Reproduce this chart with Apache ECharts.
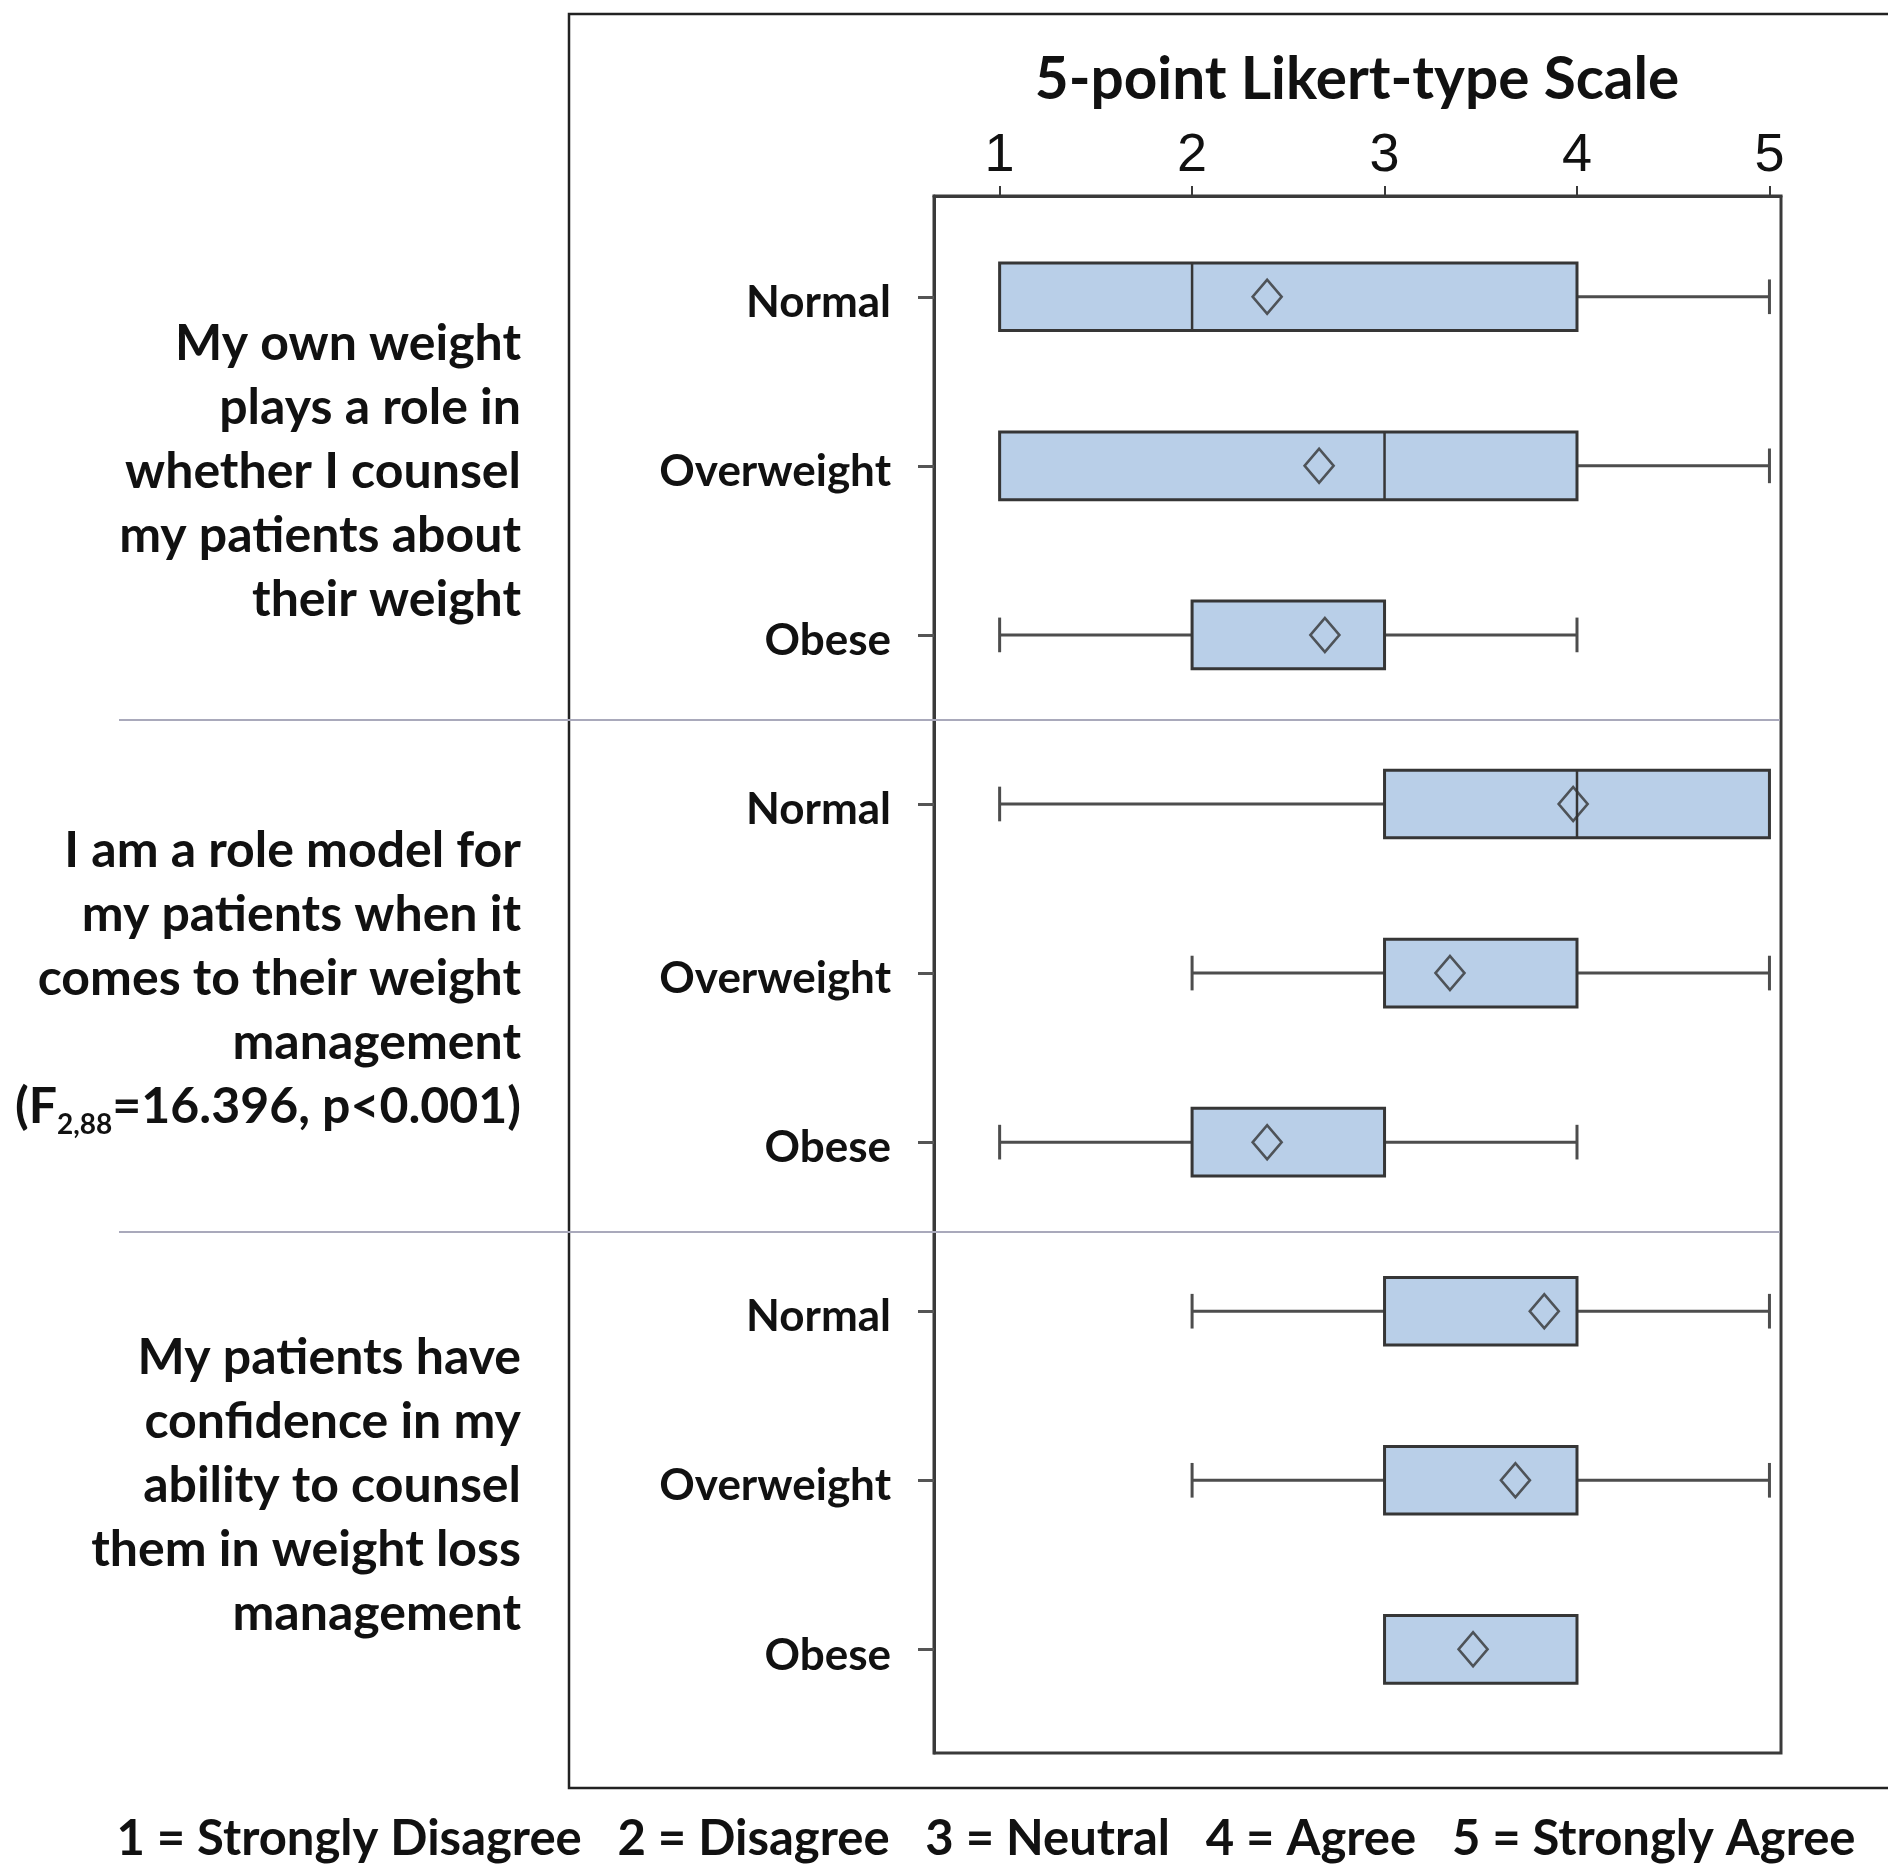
<!DOCTYPE html>
<html><head><meta charset="utf-8">
<script src="https://cdn.jsdelivr.net/npm/echarts@6/dist/echarts.min.js"></script>
<style>html,body{margin:0;padding:0;background:#fff;}#chart{width:1888px;height:1868px;}</style>
</head><body><div id="chart"></div>
<script>
// ---- data ----
const rowLabels = ['Normal','Overweight','Obese','Normal','Overweight','Obese','Normal','Overweight','Obese'];
const rowPositions = [1,2,3,4,5,6,7,8,9];
const xTickValues = [1,2,3,4,5];
const whiskerMin = [1,1,1,1,2,1,2,2,3];
const q1Values   = [1,1,2,3,3,2,3,3,3];
const medianValues = [2,3,3,4,3,2,4,4,3];
const q3Values   = [4,4,3,5,4,3,4,4,4];
const whiskerMax = [5,5,4,5,5,4,5,5,4];
const meanValues = [2.39,2.66,2.69,3.98,3.34,2.39,3.83,3.68,3.46];
const axisTitle = '5-point Likert-type Scale';
const scaleLegend = '1 = Strongly Disagree   2 = Disagree   3 = Neutral   4 = Agree   5 = Strongly Agree';
const questions = [
  {text:'My own weight\nplays a role in\nwhether I counsel\nmy patients about\ntheir weight', row:2},
  {text:'I am a role model for\nmy patients when it\ncomes to their weight\nmanagement\n(F{sub|2,88}=16.396, p<0.001)', row:5},
  {text:'My patients have\nconfidence in my\nability to counsel\nthem in weight loss\nmanagement', row:8}
];

const boxData = rowPositions.map((p,i)=>[p, whiskerMin[i], q1Values[i], medianValues[i], q3Values[i], whiskerMax[i]]);
const meanData = rowPositions.map((p,i)=>[meanValues[i], p]);

const chart = echarts.init(document.getElementById('chart'));

function renderBox(params, api){
  const y = api.value(0);
  const lo=api.value(1), a=api.value(2), md=api.value(3), b=api.value(4), hi=api.value(5);
  const unit = api.size([0,1])[1];
  const boxH = unit*0.4, capH = unit*0.205;
  const pLo=api.coord([lo,y]), pA=api.coord([a,y]), pM=api.coord([md,y]), pB=api.coord([b,y]), pHi=api.coord([hi,y]);
  const cy = pA[1];
  const ws = {stroke:'#4d4d4d', lineWidth:3};
  const ch = [];
  if (lo < a){
    ch.push({type:'line', shape:{x1:pLo[0],y1:cy,x2:pA[0],y2:cy}, style:ws});
    ch.push({type:'line', shape:{x1:pLo[0],y1:cy-capH/2,x2:pLo[0],y2:cy+capH/2}, style:ws});
  }
  if (hi > b){
    ch.push({type:'line', shape:{x1:pB[0],y1:cy,x2:pHi[0],y2:cy}, style:ws});
    ch.push({type:'line', shape:{x1:pHi[0],y1:cy-capH/2,x2:pHi[0],y2:cy+capH/2}, style:ws});
  }
  ch.push({type:'rect', shape:{x:pA[0], y:cy-boxH/2, width:pB[0]-pA[0], height:boxH},
    style:{fill:'#b9cfe8', stroke:'#363636', lineWidth:3}});
  if (md > a && md < b){
    ch.push({type:'line', shape:{x1:pM[0],y1:cy-boxH/2,x2:pM[0],y2:cy+boxH/2}, style:{stroke:'#363636', lineWidth:2.5}});
  }
  return {type:'group', children:ch};
}

const option = {
  backgroundColor:'#fff',
  animation:false,
  grid:{left:934, top:196, width:847, height:1557, show:true, borderColor:'#3a3a3a', borderWidth:3, backgroundColor:'transparent'},
  xAxis:{type:'value', position:'top', min:0.659, max:5.06,
    splitLine:{show:false},
    axisLine:{show:true, lineStyle:{color:'#3a3a3a', width:3}},
    axisTick:{show:true, customValues:xTickValues, length:10, lineStyle:{color:'#3a3a3a', width:2}},
    axisLabel:{customValues:xTickValues, fontFamily:"'Liberation Sans Narrow', 'Arial Narrow', 'Liberation Sans', sans-serif",
      fontSize:54, color:'#111', margin:13}
  },
  yAxis:{type:'value', inverse:true, min:0.404, max:9.613,
    splitLine:{show:false},
    axisLine:{show:true, lineStyle:{color:'#3a3a3a', width:3}},
    axisTick:{show:true, customValues:rowPositions, length:16, lineStyle:{color:'#555', width:3}},
    axisLabel:{customValues:rowPositions, formatter:v=>rowLabels[Math.round(v)-1],
      fontFamily:'Lato', fontWeight:'bold', fontSize:44, color:'#111', margin:43,
      verticalAlign:'top', lineHeight:12}
  },
  series:[
    {type:'custom', renderItem:renderBox, data:boxData, encode:{x:[1,2,3,4,5], y:0}, z:2},
    {type:'scatter', data:meanData, symbol:'diamond', symbolSize:[29,34], z:5,
      itemStyle:{color:'rgba(0,0,0,0)', borderColor:'#333', borderWidth:2.6}}
  ]
};
chart.setOption(option);

const gfx = [
  {type:'rect', shape:{x:569, y:14, width:1400, height:1774}, style:{fill:'none', stroke:'#222', lineWidth:2.5}, z:0},
  {type:'line', shape:{x1:119, y1:720, x2:1780, y2:720}, style:{stroke:'#a9a9bb', lineWidth:2}, z:1},
  {type:'line', shape:{x1:119, y1:1232, x2:1780, y2:1232}, style:{stroke:'#a9a9bb', lineWidth:2}, z:1},
  {type:'text', x:1357, y:80, style:{text:axisTitle, align:'center', verticalAlign:'middle',
    fontFamily:'Lato', fontWeight:'bold', fontSize:58.5, fill:'#111'}},
  {type:'text', x:986, y:1839, style:{text:scaleLegend, align:'center', verticalAlign:'middle',
    fontFamily:'Lato', fontWeight:'bold', fontSize:49, fill:'#111'}}
];
questions.forEach(q=>{
  const cy = chart.convertToPixel({yAxisIndex:0}, q.row) + 6;
  gfx.push({type:'text', x:521, y:cy, style:{text:q.text, align:'right', verticalAlign:'middle',
    fontFamily:'Lato', fontWeight:'bold', fontSize:50, lineHeight:64, fill:'#111',
    rich:{sub:{fontFamily:'Lato', fontWeight:'bold', fontSize:28, lineHeight:30, verticalAlign:'bottom', fill:'#111'}}}});
});
chart.setOption({graphic:gfx});
</script></body></html>
